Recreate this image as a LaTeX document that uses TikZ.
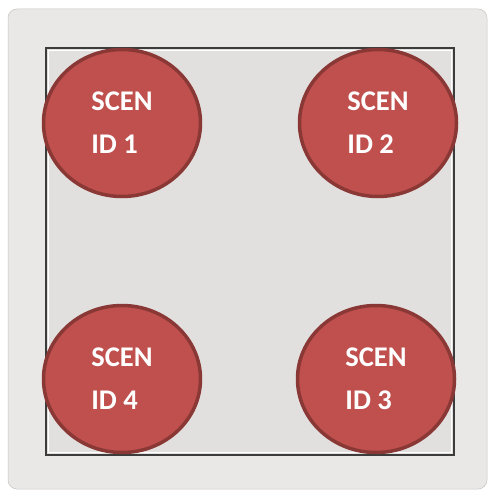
\documentclass[tikz,border=0pt]{standalone}
\usepackage{fontspec}
\setmainfont{Carlito}
\usetikzlibrary{shapes.geometric}
\definecolor{panel}{HTML}{EAE8E6}
\definecolor{panelin}{HTML}{E2E0DE}
\definecolor{frame}{HTML}{3C3C3C}
\definecolor{scenred}{HTML}{C0504D}
\definecolor{scenedge}{HTML}{8A3836}
\begin{document}
\begin{tikzpicture}[x=1bp,y=-1bp,
  scen/.style={draw=scenedge,fill=scenred,line width=3.5bp,ellipse,inner sep=0pt,
    minimum width=157bp,minimum height=147bp,align=left,text=white,
    font=\fontsize{28.5bp}{43bp}\selectfont\bfseries}]
\useasboundingbox (0,0) rectangle (492,493);
\fill[white] (0,0) rectangle (492,493);
\fill[panel,draw=panel!85!black,line width=0.5bp,rounded corners=9bp] (8,9) rectangle (487,489);
\fill[panelin] (46,48) rectangle (454,455);
\draw[white,line width=1bp] (48.5,50.5) rectangle (451.5,452.5);
\draw[frame,line width=2.2bp] (46,48) rectangle (454,455);
\node[scen] (S1) at (122,123) {SCEN\\ID 1};
\node[scen] (S2) at (378,123) {SCEN\\ID 2};
\node[scen] (S4) at (122,379) {SCEN\\ID 4};
\node[scen] (S3) at (376,379) {SCEN\\ID 3};
\end{tikzpicture}
\end{document}
